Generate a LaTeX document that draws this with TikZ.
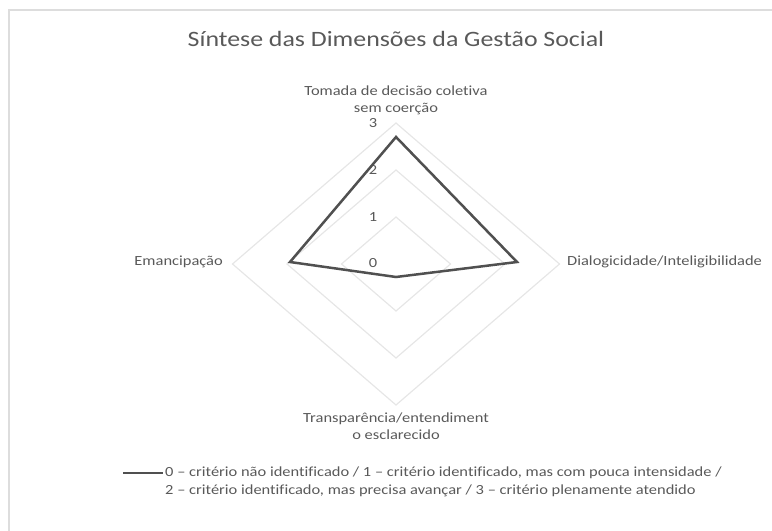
\documentclass[tikz,border=0pt]{standalone}
\usepackage{fontspec}
\setmainfont{Carlito}[FakeStretch=1.18, Ligatures={NoCommon}]
\usetikzlibrary{calc}
\definecolor{txtgray}{HTML}{595959}
\definecolor{gridgray}{HTML}{E6E6E6}
\definecolor{framegray}{HTML}{DDDDDD}
\definecolor{datagray}{HTML}{505050}
\tikzset{
  lbl/.style={inner sep=0pt, text=txtgray, font=\fontsize{14}{17}\selectfont, align=center},
  tick/.style={inner sep=0pt, text=txtgray, font=\fontsize{14}{17}\selectfont},
  grid/.style={draw=gridgray, line width=1.2bp},
  dataline/.style={draw=datagray, line width=2.5bp, line join=miter},
  frame/.style={draw=framegray, line width=2bp}
}
\begin{document}
\begin{tikzpicture}[x=1bp,y=-1bp]
\useasboundingbox (0,0) rectangle (772,531);
% outer frame (only top and left edges visible)
\draw[frame] (9,531) -- (9,10) -- (772,10);
% centre and grid
\coordinate (c) at (396,264);
\foreach \k in {1,2,3}{
  \draw[grid] ($(c)+(0,-47*\k)$) -- ($(c)+(54.5*\k,0)$) -- ($(c)+(0,47*\k)$) -- ($(c)+(-54.5*\k,0)$) -- cycle;
}
% ticks
\node[tick] (t0) at (373,263) {0};
\node[tick] (t1) at (373,217) {1};
\node[tick] (t2) at (373,170) {2};
\node[tick] (t3) at (373,123) {3};
% title
\node[inner sep=0pt, text=txtgray, font=\fontsize{22}{26}\selectfont] (title) at (396,39) {Síntese das Dimensões da Gestão Social};
% axis labels
\node[lbl] (ltop) at (396,100) {Tomada de decisão coletiva\\sem coerção};
\node[lbl, anchor=east] (lleft) at (223,262) {Emancipação};
\node[lbl, anchor=west] (lright) at (567,262) {Dialogicidade/Inteligibilidade};
\node[lbl] (lbot) at (396,426) {Transparência/entendiment\\o esclarecido};
% data
\coordinate (dtop) at (396,137);
\coordinate (dright) at (517,262);
\coordinate (dbot) at (396,277);
\coordinate (dleft) at (290,262);
\draw[dataline] (dtop) -- (dright) -- (dbot) -- (dleft) -- cycle;
% legend
\node[lbl, anchor=west] (leg1) at (165,473) {0 – critério não identificado / 1 – critério identificado, mas com pouca intensidade /};
\node[lbl, anchor=west] (leg2) at (165,491) {2 – critério identificado, mas precisa avançar / 3 – critério plenamente atendido};
\coordinate (legs) at ($(leg1.west)+(-42,0)$);
\draw[dataline] (legs) -- ($(leg1.west)+(-2,0)$);
\end{tikzpicture}
\end{document}
